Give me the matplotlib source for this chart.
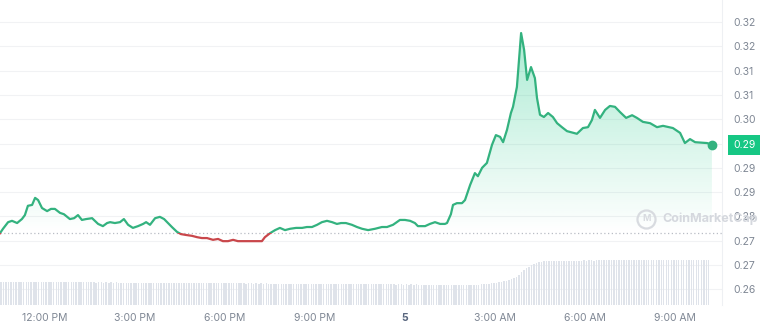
import numpy as np
import matplotlib
matplotlib.use("Agg")
import matplotlib.pyplot as plt
import matplotlib.transforms as mtrans
from matplotlib.patches import Rectangle
from matplotlib.colors import to_rgb

# price samples: hours counted from midnight of the 4th (24 = midnight of the 5th)
hours = [10.50, 10.60, 10.77, 10.90, 11.07, 11.23, 11.33, 11.43, 11.57, 11.67,
         11.77, 11.90, 12.07, 12.20, 12.33, 12.50, 12.63, 12.83, 12.97, 13.10,
         13.23, 13.37, 13.57, 13.77, 13.93, 14.07, 14.17, 14.33, 14.50, 14.63,
         14.77, 14.93, 15.10, 15.27, 15.37, 15.50, 15.67, 15.83, 15.97, 16.10,
         16.23, 16.40, 16.53, 16.70, 16.90, 17.07, 17.23, 17.40, 17.60, 17.77,
         17.93, 18.10, 18.27, 18.43, 18.67, 18.83, 19.03, 19.23, 19.33, 19.50,
         19.67, 19.83, 20.00, 20.17, 20.37, 20.57, 20.73, 20.90, 21.07, 21.23,
         21.40, 21.57, 21.73, 21.87, 22.03, 22.23, 22.40, 22.57, 22.77, 23.00,
         23.23, 23.40, 23.60, 23.83, 24.00, 24.17, 24.33, 24.43, 24.67, 24.83,
         25.00, 25.17, 25.33, 25.40, 25.53, 25.60, 25.73, 25.90, 26.00, 26.17,
         26.33, 26.43, 26.57, 26.73, 26.90, 27.03, 27.17, 27.27, 27.40, 27.53,
         27.60, 27.73, 27.87, 27.97, 28.07, 28.20, 28.33, 28.40, 28.50, 28.63,
         28.77, 28.93, 29.07, 29.23, 29.40, 29.73, 29.93, 30.10, 30.23, 30.33,
         30.50, 30.67, 30.83, 31.00, 31.17, 31.37, 31.57, 31.73, 31.93, 32.17,
         32.40, 32.60, 32.93, 33.17, 33.33, 33.50, 33.67, 34.07, 34.23]
price = [0.2737, 0.2747, 0.2762, 0.2765, 0.2760, 0.2769, 0.2778, 0.2799, 0.2801, 0.2817,
         0.2812, 0.2794, 0.2787, 0.2792, 0.2792, 0.2783, 0.2780, 0.2769, 0.2771, 0.2778,
         0.2767, 0.2769, 0.2771, 0.2758, 0.2753, 0.2760, 0.2762, 0.2760, 0.2762, 0.2769,
         0.2756, 0.2749, 0.2753, 0.2758, 0.2762, 0.2756, 0.2771, 0.2774, 0.2769, 0.2760,
         0.2751, 0.2740, 0.2735, 0.2733, 0.2731, 0.2728, 0.2726, 0.2726, 0.2722, 0.2724,
         0.2719, 0.2719, 0.2722, 0.2719, 0.2719, 0.2719, 0.2719, 0.2719, 0.2728, 0.2737,
         0.2744, 0.2749, 0.2744, 0.2747, 0.2749, 0.2749, 0.2751, 0.2751, 0.2756, 0.2762,
         0.2765, 0.2762, 0.2758, 0.2760, 0.2760, 0.2756, 0.2751, 0.2747, 0.2744, 0.2747,
         0.2751, 0.2751, 0.2756, 0.2767, 0.2767, 0.2765, 0.2760, 0.2753, 0.2753, 0.2758,
         0.2762, 0.2758, 0.2758, 0.2760, 0.2780, 0.2801, 0.2805, 0.2805, 0.2812, 0.2846,
         0.2873, 0.2866, 0.2885, 0.2896, 0.2937, 0.2959, 0.2955, 0.2943, 0.2971, 0.3009,
         0.3023, 0.3068, 0.3190, 0.3152, 0.3084, 0.3113, 0.3088, 0.3043, 0.3005, 0.3000,
         0.3009, 0.3000, 0.2986, 0.2977, 0.2968, 0.2962, 0.2975, 0.2977, 0.2993, 0.3016,
         0.2998, 0.3016, 0.3025, 0.3023, 0.3011, 0.2998, 0.3004, 0.2998, 0.2989, 0.2986,
         0.2977, 0.2980, 0.2975, 0.2964, 0.2941, 0.2950, 0.2943, 0.2941, 0.2937]
baseline = 0.2737  # opening price, dotted reference line

# 5-minute volume bars from 10:30, one row per hour (arbitrary units)
volume = [
    2.30, 2.31, 2.29, 2.30, 2.32, 2.30, 2.28, 2.30, 2.31, 2.30, 2.29, 2.30,
    2.30, 2.29, 2.31, 2.30, 2.28, 2.30, 2.29, 2.31, 2.30, 2.29, 2.28, 2.29,
    2.28, 2.29, 2.27, 2.28, 2.29, 2.27, 2.28, 2.26, 2.28, 2.27, 2.28, 2.27,
    2.26, 2.27, 2.25, 2.26, 2.27, 2.25, 2.26, 2.24, 2.26, 2.25, 2.26, 2.25,
    2.24, 2.25, 2.23, 2.24, 2.25, 2.23, 2.24, 2.22, 2.24, 2.23, 2.24, 2.22,
    2.22, 2.23, 2.21, 2.22, 2.23, 2.21, 2.22, 2.20, 2.22, 2.21, 2.22, 2.20,
    2.20, 2.21, 2.19, 2.20, 2.21, 2.19, 2.20, 2.18, 2.20, 2.19, 2.20, 2.18,
    2.18, 2.19, 2.17, 2.18, 2.19, 2.17, 2.18, 2.16, 2.18, 2.17, 2.18, 2.16,
    2.16, 2.17, 2.15, 2.16, 2.17, 2.15, 2.16, 2.14, 2.16, 2.15, 2.16, 2.14,
    2.14, 2.15, 2.13, 2.14, 2.15, 2.13, 2.14, 2.12, 2.14, 2.13, 2.14, 2.12,
    2.12, 2.13, 2.11, 2.12, 2.13, 2.11, 2.12, 2.10, 2.12, 2.11, 2.12, 2.10,
    2.10, 2.11, 2.09, 2.10, 2.11, 2.09, 2.10, 2.08, 2.10, 2.09, 2.10, 2.08,
    2.08, 2.09, 2.07, 2.08, 2.09, 2.07, 2.08, 2.06, 2.08, 2.07, 2.08, 2.06,
    2.06, 2.07, 2.05, 2.06, 2.07, 2.05, 2.06, 2.04, 2.06, 2.05, 2.06, 2.04,
    2.04, 2.05, 2.03, 2.04, 2.05, 2.03, 2.04, 2.02, 2.04, 2.03, 2.04, 2.02,
    2.02, 2.01, 2.02, 2.00, 2.01, 2.02, 2.01, 2.00, 2.02, 2.03, 2.04, 2.05,
    2.06, 2.08, 2.10, 2.13, 2.16, 2.20, 2.24, 2.28, 2.33, 2.38, 2.44, 2.50,
    2.60, 2.70, 2.85, 3.05, 3.30, 3.50, 3.70, 3.85, 4.00, 4.10, 4.20, 4.28,
    4.32, 4.36, 4.38, 4.40, 4.41, 4.42, 4.42, 4.43, 4.43, 4.44, 4.43, 4.44,
    4.44, 4.45, 4.44, 4.45, 4.45, 4.46, 4.45, 4.46, 4.46, 4.45, 4.46, 4.46,
    4.46, 4.47, 4.46, 4.47, 4.47, 4.48, 4.47, 4.48, 4.48, 4.47, 4.48, 4.48,
    4.48, 4.49, 4.48, 4.49, 4.49, 4.50, 4.49, 4.50, 4.50, 4.49, 4.50, 4.50,
    4.50, 4.51, 4.50, 4.51, 4.51, 4.52, 4.51, 4.52, 4.52, 4.51, 4.52, 4.52,
    4.52, 4.53, 4.52, 4.53, 4.53, 4.54, 4.53, 4.54,
]

ytick_vals = [0.3215, 0.3160, 0.3105, 0.3050, 0.2995, 0.2940,
              0.2885, 0.2830, 0.2775, 0.2720, 0.2665, 0.2610]
ytick_labels = ["0.32", "0.32", "0.31", "0.31", "0.30", "0.29",
                "0.29", "0.29", "0.28", "0.27", "0.27", "0.26"]
xtick_hours = [12, 15, 18, 21, 24, 27, 30, 33]
xtick_labels = ["12:00 PM", "3:00 PM", "6:00 PM", "9:00 PM", "5",
                "3:00 AM", "6:00 AM", "9:00 AM"]
last_label = "0.29"

GREEN = "#16c784"
LINE_GREEN = "#33b27f"
LINE_RED = "#c9474b"
GREY = "#7f8794"

plt.rcParams["font.family"] = ["Inter", "DejaVu Sans"]

fig = plt.figure(figsize=(7.6, 3.27), dpi=100)
ax = fig.add_axes([0, 22 / 327, 722 / 760, 305 / 327])
x0, x1 = 10.5, 10.5 + 722 / 30
y0, y1 = 0.25745, 0.32648

# volume bars on a twin axis (created first: twinx moves the host ticks left)
ax2 = ax.twinx()
vol_hours = x0 + np.arange(len(volume)) / 12 + 1 / 24
ax2.bar(vol_hours, volume, width=0.6 / 12, color="#dfe3ea", lw=0)
ax2.set_ylim(0, 30.5)
ax2.set_yticks([])
for s in ax2.spines.values():
    s.set_visible(False)

# gradient fill between price line and the baseline
grad = np.zeros((256, 1, 4))
grad[..., :3] = to_rgb(GREEN)
grad[:, 0, 3] = np.linspace(0.42, 0.0, 256)
im = ax.imshow(grad, extent=[x0, x1, baseline, y1], aspect="auto",
               origin="upper", zorder=1, interpolation="bilinear")
poly = ax.fill_between(hours, np.maximum(price, baseline), baseline,
                       color="none", lw=0)
im.set_clip_path(poly.get_paths()[0], ax.transData)

ax.axhline(baseline, color="#b9bdc5", lw=0.9, ls=(0, (1, 2)), zorder=2)

# line: green above the open, red below
up = Rectangle((x0, baseline), x1 - x0, y1 - baseline, transform=ax.transData)
dn = Rectangle((x0, y0), x1 - x0, baseline - y0, transform=ax.transData)
l1, = ax.plot(hours, price, color=LINE_GREEN, lw=1.6, zorder=4,
              solid_joinstyle="round")
l1.set_clip_path(up)
l2, = ax.plot(hours, price, color=LINE_RED, lw=1.6, zorder=4,
              solid_joinstyle="round")
l2.set_clip_path(dn)
ax.plot(hours[-1], price[-1], "o", color=LINE_GREEN, ms=6, zorder=5)

ax.set_xlim(x0, x1)
ax.set_ylim(y0, y1)
ax.yaxis.tick_right()
ax.set_yticks(ytick_vals)
ax.set_yticklabels(ytick_labels)
ax.set_xticks(xtick_hours)
ax.set_xticklabels(xtick_labels)
ax.tick_params(axis="both", length=0, labelsize=7.5, labelcolor=GREY)
ax.tick_params(axis="y", pad=8)
ax.tick_params(axis="x", pad=6)
lab5 = ax.get_xticklabels()[4]
lab5.set_fontweight("bold")
lab5.set_color("#58667e")
ax.grid(axis="y", color="#f1f2f4", lw=0.8)
ax.set_axisbelow(True)
for s in ["top", "left", "bottom"]:
    ax.spines[s].set_visible(False)
ax.spines["right"].set_color("#eef0f3")

# last price badge
blend = mtrans.blended_transform_factory(ax.transAxes, ax.transData)
ax.text(1 + 11 / 722, price[-1], last_label, transform=blend, ha="left",
        va="center", fontsize=7.5, color="white", zorder=10, clip_on=False,
        bbox=dict(boxstyle="square,pad=0.45", fc=GREEN, ec="none"))

# watermark (overlaps the 0.28 label, as in the source screenshot)
ax.plot([0.895], [0.282], "o", ms=13, mfc="none", mec="#d8dbe0", mew=1.6,
        transform=ax.transAxes, clip_on=False, zorder=6)
ax.text(0.895, 0.282, "M", transform=ax.transAxes, ha="center", va="center",
        fontsize=6.5, fontweight="bold", color="#d8dbe0", zorder=6)
ax.text(0.917, 0.282, "CoinMarketCap", transform=ax.transAxes, ha="left",
        va="center", fontsize=9, fontweight="bold", color="#d5d8de",
        zorder=6, clip_on=False)

fig.savefig("out.png", dpi=100)
